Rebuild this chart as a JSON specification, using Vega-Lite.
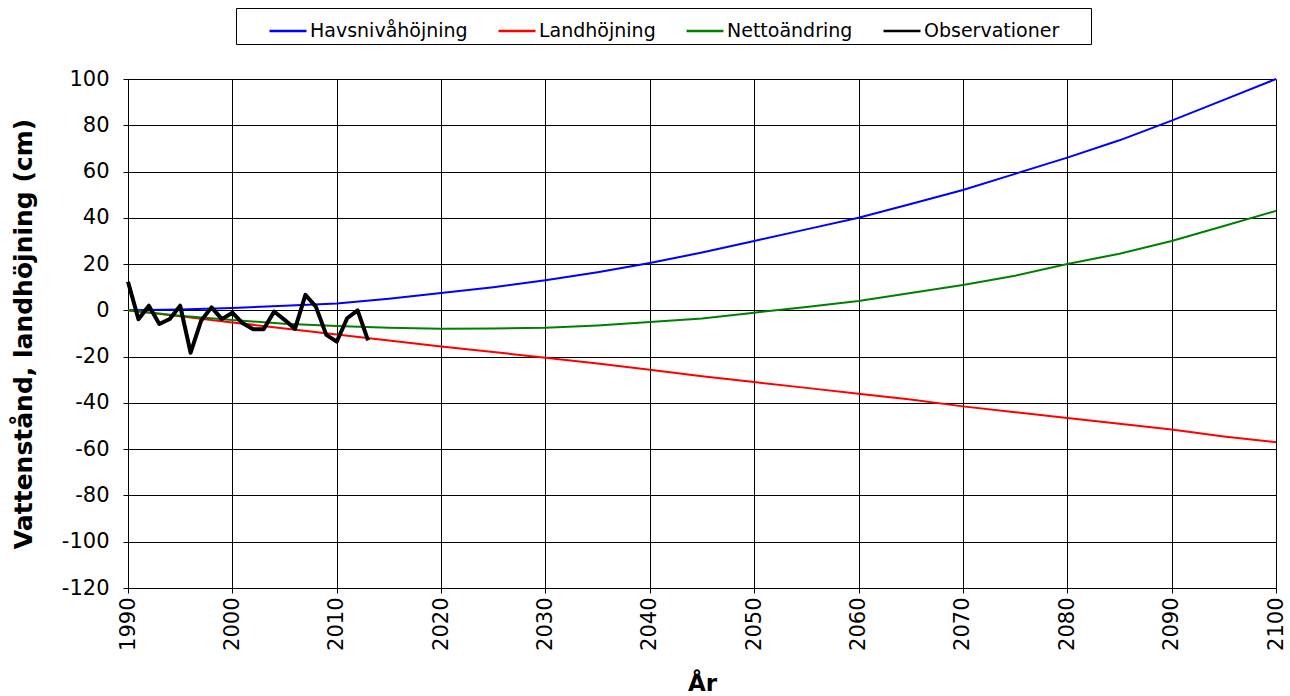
{
  "$schema": "https://vega.github.io/schema/vega-lite/v6.json",
  "autosize": {"type": "none"},
  "width": 1148,
  "height": 509,
  "padding": {"left": 128, "top": 79, "right": 14, "bottom": 108},
  "background": "white",
  "config": {
    "font": "DejaVu Sans",
    "view": {"stroke": null},
    "axis": {
      "grid": true,
      "gridColor": "#000000",
      "gridOpacity": 1,
      "gridWidth": 1,
      "domainColor": "#000000",
      "domainWidth": 1,
      "tickColor": "#000000",
      "tickSize": 5,
      "labelColor": "#000000",
      "labelFont": "DejaVu Sans",
      "labelFontSize": 21,
      "titleFont": "DejaVu Sans",
      "titleFontSize": 23,
      "titleFontWeight": "bold",
      "titleColor": "#000000"
    }
  },
  "data": {"values": [
    {"year": 1990, "value": 0, "series": "Havsnivåhöjning"},
    {"year": 1995, "value": 0.4, "series": "Havsnivåhöjning"},
    {"year": 2000, "value": 1, "series": "Havsnivåhöjning"},
    {"year": 2005, "value": 2, "series": "Havsnivåhöjning"},
    {"year": 2010, "value": 3, "series": "Havsnivåhöjning"},
    {"year": 2015, "value": 5, "series": "Havsnivåhöjning"},
    {"year": 2020, "value": 7.5, "series": "Havsnivåhöjning"},
    {"year": 2025, "value": 10, "series": "Havsnivåhöjning"},
    {"year": 2030, "value": 13, "series": "Havsnivåhöjning"},
    {"year": 2035, "value": 16.5, "series": "Havsnivåhöjning"},
    {"year": 2040, "value": 20.5, "series": "Havsnivåhöjning"},
    {"year": 2045, "value": 25, "series": "Havsnivåhöjning"},
    {"year": 2050, "value": 30, "series": "Havsnivåhöjning"},
    {"year": 2055, "value": 35, "series": "Havsnivåhöjning"},
    {"year": 2060, "value": 40, "series": "Havsnivåhöjning"},
    {"year": 2065, "value": 46, "series": "Havsnivåhöjning"},
    {"year": 2070, "value": 52, "series": "Havsnivåhöjning"},
    {"year": 2075, "value": 59, "series": "Havsnivåhöjning"},
    {"year": 2080, "value": 66, "series": "Havsnivåhöjning"},
    {"year": 2085, "value": 73.5, "series": "Havsnivåhöjning"},
    {"year": 2090, "value": 82, "series": "Havsnivåhöjning"},
    {"year": 2095, "value": 91, "series": "Havsnivåhöjning"},
    {"year": 2100, "value": 100, "series": "Havsnivåhöjning"},
    {"year": 1990, "value": 0, "series": "Landhöjning"},
    {"year": 1995, "value": -2.6, "series": "Landhöjning"},
    {"year": 2000, "value": -5.2, "series": "Landhöjning"},
    {"year": 2005, "value": -7.8, "series": "Landhöjning"},
    {"year": 2010, "value": -10.4, "series": "Landhöjning"},
    {"year": 2015, "value": -13, "series": "Landhöjning"},
    {"year": 2020, "value": -15.6, "series": "Landhöjning"},
    {"year": 2025, "value": -18, "series": "Landhöjning"},
    {"year": 2030, "value": -20.5, "series": "Landhöjning"},
    {"year": 2035, "value": -23, "series": "Landhöjning"},
    {"year": 2040, "value": -25.7, "series": "Landhöjning"},
    {"year": 2045, "value": -28.5, "series": "Landhöjning"},
    {"year": 2050, "value": -31, "series": "Landhöjning"},
    {"year": 2055, "value": -33.5, "series": "Landhöjning"},
    {"year": 2060, "value": -36, "series": "Landhöjning"},
    {"year": 2065, "value": -38.5, "series": "Landhöjning"},
    {"year": 2070, "value": -41.5, "series": "Landhöjning"},
    {"year": 2075, "value": -44, "series": "Landhöjning"},
    {"year": 2080, "value": -46.5, "series": "Landhöjning"},
    {"year": 2085, "value": -49, "series": "Landhöjning"},
    {"year": 2090, "value": -51.5, "series": "Landhöjning"},
    {"year": 2095, "value": -54.5, "series": "Landhöjning"},
    {"year": 2100, "value": -57, "series": "Landhöjning"},
    {"year": 1990, "value": 0, "series": "Nettoändring"},
    {"year": 1995, "value": -2.3, "series": "Nettoändring"},
    {"year": 2000, "value": -4.2, "series": "Nettoändring"},
    {"year": 2005, "value": -5.8, "series": "Nettoändring"},
    {"year": 2010, "value": -6.8, "series": "Nettoändring"},
    {"year": 2015, "value": -7.5, "series": "Nettoändring"},
    {"year": 2020, "value": -8, "series": "Nettoändring"},
    {"year": 2025, "value": -7.8, "series": "Nettoändring"},
    {"year": 2030, "value": -7.5, "series": "Nettoändring"},
    {"year": 2035, "value": -6.5, "series": "Nettoändring"},
    {"year": 2040, "value": -5, "series": "Nettoändring"},
    {"year": 2045, "value": -3.5, "series": "Nettoändring"},
    {"year": 2050, "value": -1, "series": "Nettoändring"},
    {"year": 2055, "value": 1.5, "series": "Nettoändring"},
    {"year": 2060, "value": 4, "series": "Nettoändring"},
    {"year": 2065, "value": 7.5, "series": "Nettoändring"},
    {"year": 2070, "value": 11, "series": "Nettoändring"},
    {"year": 2075, "value": 15, "series": "Nettoändring"},
    {"year": 2080, "value": 20, "series": "Nettoändring"},
    {"year": 2085, "value": 24.5, "series": "Nettoändring"},
    {"year": 2090, "value": 30, "series": "Nettoändring"},
    {"year": 2095, "value": 36.5, "series": "Nettoändring"},
    {"year": 2100, "value": 43, "series": "Nettoändring"},
    {"year": 1990, "value": 12.4, "series": "Observationer"},
    {"year": 1991, "value": -3.8, "series": "Observationer"},
    {"year": 1992, "value": 2, "series": "Observationer"},
    {"year": 1993, "value": -5.9, "series": "Observationer"},
    {"year": 1994, "value": -3.7, "series": "Observationer"},
    {"year": 1995, "value": 2, "series": "Observationer"},
    {"year": 1996, "value": -18.3, "series": "Observationer"},
    {"year": 1997, "value": -4.5, "series": "Observationer"},
    {"year": 1998, "value": 1.3, "series": "Observationer"},
    {"year": 1999, "value": -3.8, "series": "Observationer"},
    {"year": 2000, "value": -1, "series": "Observationer"},
    {"year": 2001, "value": -5.6, "series": "Observationer"},
    {"year": 2002, "value": -8.2, "series": "Observationer"},
    {"year": 2003, "value": -8.2, "series": "Observationer"},
    {"year": 2004, "value": -0.5, "series": "Observationer"},
    {"year": 2005, "value": -4.1, "series": "Observationer"},
    {"year": 2006, "value": -8, "series": "Observationer"},
    {"year": 2007, "value": 6.7, "series": "Observationer"},
    {"year": 2008, "value": 1.6, "series": "Observationer"},
    {"year": 2009, "value": -10.6, "series": "Observationer"},
    {"year": 2010, "value": -13.5, "series": "Observationer"},
    {"year": 2011, "value": -3.4, "series": "Observationer"},
    {"year": 2012, "value": 0, "series": "Observationer"},
    {"year": 2013, "value": -13, "series": "Observationer"}
  ]},
  "mark": {"type": "line", "strokeJoin": "round", "strokeCap": "butt"},
  "encoding": {
    "x": {
      "field": "year", "type": "quantitative",
      "scale": {"domain": [1990, 2100], "nice": false, "zero": false},
      "axis": {
        "title": "År",
        "values": [1990, 2000, 2010, 2020, 2030, 2040, 2050, 2060, 2070, 2080, 2090, 2100],
        "format": "d",
        "labelAngle": -90,
        "labelAlign": "right",
        "labelBaseline": "middle",
        "labelPadding": 4,
        "titlePadding": 22
      }
    },
    "y": {
      "field": "value", "type": "quantitative",
      "scale": {"domain": [-120, 100], "nice": false},
      "axis": {
        "title": "Vattenstånd, landhöjning (cm)",
        "titleFontSize": 25,
        "values": [-120, -100, -80, -60, -40, -20, 0, 20, 40, 60, 80, 100],
        "labelExpr": "replace(datum.label, '\u2212', '-')",
        "labelPadding": 14,
        "titlePadding": 25
      }
    },
    "color": {
      "field": "series", "type": "nominal",
      "sort": ["Havsnivåhöjning", "Landhöjning", "Nettoändring", "Observationer"],
      "scale": {
        "domain": ["Havsnivåhöjning", "Landhöjning", "Nettoändring", "Observationer"],
        "range": ["#0000FF", "#FF0000", "#008000", "#000000"]
      },
      "legend": {
        "title": null,
        "orient": "none",
        "legendX": 108,
        "legendY": -71,
        "direction": "horizontal",
        "columns": 4,
        "symbolType": "stroke",
        "symbolSize": 1369,
        "symbolStrokeWidth": 2.5,
        "labelFont": "DejaVu Sans",
        "labelFontSize": 19,
        "labelColor": "#000000",
        "labelOffset": 2,
        "labelLimit": 400,
        "labelExpr": "datum.label == 'Observationer' ? datum.label + '\u2800\u2800' : datum.label",
        "columnPadding": 0,
        "strokeColor": "#000000",
        "padding": 3,
        "symbolOffset": 29
      }
    },
    "strokeWidth": {
      "condition": {"test": "datum.series === 'Observationer'", "value": 4},
      "value": 2
    }
  }
}
